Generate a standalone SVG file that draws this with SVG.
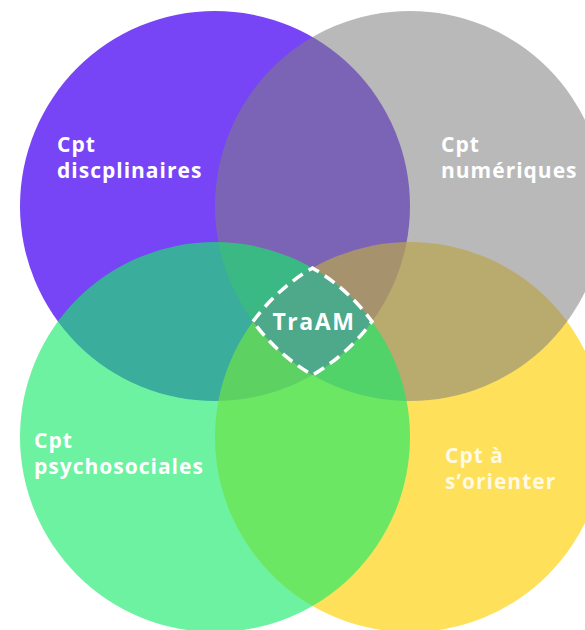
<svg xmlns="http://www.w3.org/2000/svg" width="585" height="630" viewBox="0 0 585 630">
  <style>
    .lbl { font-family: "Open Sans", "Liberation Sans", sans-serif; font-weight: 700; font-size: 21px; fill: #ffffff; letter-spacing: 1px; }
    .pale { fill-opacity: 0.85; }
    .center { font-family: "Open Sans", "Liberation Sans", sans-serif; font-weight: 700; font-size: 23px; fill: #ffffff; letter-spacing: 1.6px; }
  </style>
  <rect width="585" height="630" fill="#ffffff"/>
  <g id="node-disciplinaires">
    <circle cx="215" cy="206" r="195" fill="#7744f6"/>
  </g>
  <g id="node-orienter">
    <circle cx="410" cy="437" r="195" fill="#fdd314" fill-opacity="0.7"/>
  </g>
  <g id="node-numeriques">
    <circle cx="410" cy="206" r="195" fill="#7f7f7f" fill-opacity="0.55"/>
  </g>
  <g id="node-psychosociales">
    <circle cx="215" cy="437" r="195" fill="#16eb69" fill-opacity="0.63"/>
  </g>
  <g id="node-traam">
    <path d="M 253 321.5 A 195 195 0 0 1 312.5 268 A 195 195 0 0 1 372 321.5 A 195 195 0 0 1 312.5 375 A 195 195 0 0 1 253 321.5 Z" fill="#4ea88a" stroke="#ffffff" stroke-width="3.5" stroke-dasharray="12 7"/>
    <text class="center" x="314" y="330" text-anchor="middle">TraAM</text>
  </g>
  <g id="labels">
    <text class="lbl" x="57" y="152">Cpt</text>
    <text class="lbl" x="57" y="178">discplinaires</text>
    <text class="lbl" x="441" y="152">Cpt</text>
    <text class="lbl" x="441" y="178">numériques</text>
    <text class="lbl" x="34" y="448">Cpt</text>
    <text class="lbl" x="34" y="474">psychosociales</text>
    <text class="lbl pale" x="445" y="463">Cpt à</text>
    <text class="lbl pale" x="445" y="489">s’orienter</text>
  </g>
</svg>
